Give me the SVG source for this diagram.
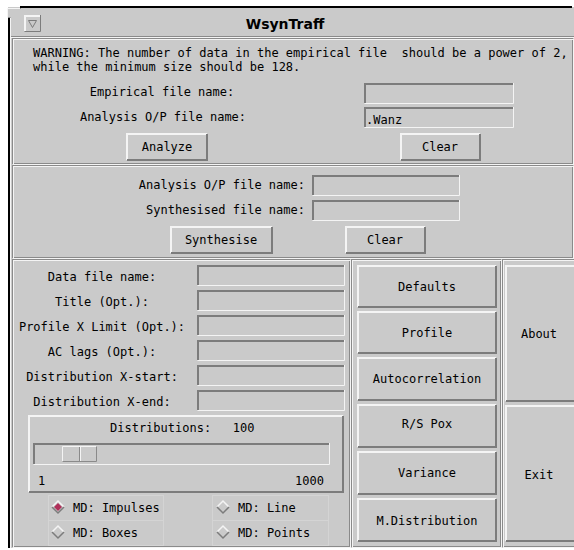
<svg xmlns="http://www.w3.org/2000/svg" width="574" height="550" viewBox="0 0 574 550">
<style>
.bg{fill:#ffffff}
.face{fill:#cacaca}
.hi{fill:none;stroke:#f4f4f4;stroke-width:2}
.sh{fill:none;stroke:#7c7c7c;stroke-width:2}
.ed{fill:none;stroke:#8a8a8a;stroke-width:1}
.ew{fill:none;stroke:#f4f4f4;stroke-width:1}
.t{font-family:"DejaVu Sans Mono","Liberation Mono",monospace;font-size:12px;fill:#000}
.c{text-anchor:middle}
.e{text-anchor:end}
.title{font-family:"DejaVu Sans","Liberation Sans",sans-serif;font-weight:bold;font-size:14px;fill:#000;text-anchor:middle}
</style>
<rect x="0" y="0" width="574" height="550" class="bg"/>

<g id="window-frame">
  <rect x="8" y="7" width="566" height="541" class="face"/>
  <rect x="20" y="6" width="552" height="2" fill="#000"/>
  <rect x="8" y="17" width="2" height="531" fill="#000"/>
  <path d="M7.5 17.5 V8.5 H20.5" fill="none" stroke="#f4f4f4"/>
  <path d="M8 17.5 H10.5 M20.5 8 V9" fill="none" stroke="#8a8a8a"/>
  <line x1="10" y1="36.5" x2="574" y2="36.5" stroke="#8a8a8a"/>
  <line x1="10" y1="37.5" x2="574" y2="37.5" stroke="#f4f4f4"/>
  <line x1="10.5" y1="18" x2="10.5" y2="548" stroke="#f4f4f4"/>
</g>

<g id="titlebar">
  <g id="menu-button">
    <rect x="24" y="15" width="17" height="17" class="face"/>
    <path d="M25 31 V16 H40" class="hi" stroke-width="1"/>
    <path d="M24.5 31.5 H40.5 V15" fill="none" stroke="#7c7c7c"/>
    <path d="M28.5 20.5 H36.5 L32.5 27.5 Z" fill="none" stroke="#7c7c7c" stroke-width="1"/>
  </g>
  <text x="285" y="29" class="title">WsynTraff</text>
</g>

<g id="panel-analyze">
  <rect x="12.5" y="38.5" width="560" height="125" class="ed"/>
  <rect x="13.5" y="39.5" width="560" height="125" class="ew"/>
  <text x="33" y="57" class="t" xml:space="preserve">WARNING: The number of data in the empirical file  should be a power of 2,</text>
  <text x="33" y="71" class="t">while the minimum size should be 128.</text>
  <text x="162" y="96" class="t c">Empirical file name:</text>
  <text x="163" y="121" class="t c">Analysis O/P file name:</text>
  <g id="entry-empirical">
    <rect x="364" y="83" width="150" height="21" class="face"/>
    <path d="M365 103 V84 H513" class="sh"/>
    <path d="M364.5 103.5 H513.5 V83" class="ew"/>
  </g>
  <g id="entry-analysis-op">
    <rect x="364" y="107" width="150" height="21" class="face"/>
    <path d="M365 127 V108 H513" class="sh"/>
    <path d="M364.5 127.5 H513.5 V107" class="ew"/>
    <text x="366" y="124" class="t">.Wanz</text>
  </g>
  <g id="btn-analyze">
    <rect x="126" y="133" width="82" height="28" class="face"/>
    <path d="M127 160 V134 H207" class="hi"/>
    <path d="M127 160 H207 V134" class="sh"/>
    <text x="167" y="151" class="t c">Analyze</text>
  </g>
  <g id="btn-clear-1">
    <rect x="400" y="133" width="81" height="28" class="face"/>
    <path d="M401 160 V134 H480" class="hi"/>
    <path d="M401 160 H480 V134" class="sh"/>
    <text x="440" y="151" class="t c">Clear</text>
  </g>
</g>

<g id="panel-synthesise">
  <rect x="12.5" y="165.5" width="560" height="92" class="ed"/>
  <rect x="13.5" y="166.5" width="560" height="92" class="ew"/>
  <text x="305" y="189" class="t e">Analysis O/P file name:</text>
  <text x="305" y="214" class="t e">Synthesised file name:</text>
  <g id="entry-syn-analysis">
    <rect x="312" y="175" width="148" height="21" class="face"/>
    <path d="M313 195 V176 H459" class="sh"/>
    <path d="M312.5 195.5 H459.5 V175" class="ew"/>
  </g>
  <g id="entry-synthesised">
    <rect x="312" y="200" width="148" height="21" class="face"/>
    <path d="M313 220 V201 H459" class="sh"/>
    <path d="M312.5 220.5 H459.5 V200" class="ew"/>
  </g>
  <g id="btn-synthesise">
    <rect x="170" y="226" width="103" height="28" class="face"/>
    <path d="M171 253 V227 H272" class="hi"/>
    <path d="M171 253 H272 V227" class="sh"/>
    <text x="221" y="244" class="t c">Synthesise</text>
  </g>
  <g id="btn-clear-2">
    <rect x="345" y="226" width="81" height="28" class="face"/>
    <path d="M346 253 V227 H425" class="hi"/>
    <path d="M346 253 H425 V227" class="sh"/>
    <text x="385" y="244" class="t c">Clear</text>
  </g>
</g>

<g id="panel-plot-options">
  <rect x="12.5" y="259.5" width="337" height="287" class="ed"/>
  <rect x="13.5" y="260.5" width="337" height="287" class="ew"/>
  <text x="102" y="281" class="t c">Data file name:</text>
  <text x="102" y="306" class="t c">Title (Opt.):</text>
  <text x="102" y="331" class="t c">Profile X Limit (Opt.):</text>
  <text x="102" y="356" class="t c">AC lags (Opt.):</text>
  <text x="102" y="381" class="t c">Distribution X-start:</text>
  <text x="102" y="406" class="t c">Distribution X-end:</text>
  <g id="entries-plot">
    <rect x="197" y="265" width="148" height="21" class="face"/>
    <path d="M198 285 V266 H344" class="sh"/><path d="M197.5 285.5 H344.5 V265" class="ew"/>
    <rect x="197" y="290" width="148" height="21" class="face"/>
    <path d="M198 310 V291 H344" class="sh"/><path d="M197.5 310.5 H344.5 V290" class="ew"/>
    <rect x="197" y="315" width="148" height="21" class="face"/>
    <path d="M198 335 V316 H344" class="sh"/><path d="M197.5 335.5 H344.5 V315" class="ew"/>
    <rect x="197" y="340" width="148" height="21" class="face"/>
    <path d="M198 360 V341 H344" class="sh"/><path d="M197.5 360.5 H344.5 V340" class="ew"/>
    <rect x="197" y="365" width="148" height="21" class="face"/>
    <path d="M198 385 V366 H344" class="sh"/><path d="M197.5 385.5 H344.5 V365" class="ew"/>
    <rect x="197" y="390" width="148" height="21" class="face"/>
    <path d="M198 410 V391 H344" class="sh"/><path d="M197.5 410.5 H344.5 V390" class="ew"/>
  </g>
  <g id="scale-distributions">
    <rect x="28" y="415" width="316" height="78" class="face"/>
    <path d="M29 492 V416 H343" class="hi"/>
    <path d="M29 492 H343 V416" class="sh"/>
    <text x="110" y="432" class="t" xml:space="preserve">Distributions:   100</text>
    <rect x="33" y="443" width="297" height="22" class="face"/>
    <path d="M34 464 V444 H329" class="sh"/>
    <path d="M33.5 464.5 H329.5 V443" class="ew" stroke-width="2"/>
    <rect x="62" y="446" width="35" height="16" class="face"/>
    <path d="M62.5 461.5 V446.5 H96.5" class="ew"/>
    <path d="M62.5 461.5 H96.5 V446.5" class="ed"/>
    <line x1="79.5" y1="447" x2="79.5" y2="461" stroke="#8a8a8a"/>
    <line x1="80.5" y1="447" x2="80.5" y2="461" stroke="#f4f4f4"/>
    <text x="38" y="485" class="t">1</text>
    <text x="324" y="485" class="t e">1000</text>
  </g>
  <g id="radio-impulses">
    <rect x="48.5" y="495.5" width="115" height="25" fill="none" stroke="#d4d4d4"/>
    <path d="M52 507 L58 501 L64 507" fill="none" stroke="#f4f4f4" stroke-width="1.5"/>
    <path d="M52 507 L58 513 L64 507" fill="none" stroke="#7c7c7c" stroke-width="1.5"/>
    <path d="M54 507 L58 503 L62 507 L58 511 Z" fill="#b0305a"/>
    <text x="73" y="512" class="t">MD: Impulses</text>
  </g>
  <g id="radio-boxes">
    <rect x="48.5" y="520.5" width="115" height="25" fill="none" stroke="#d4d4d4"/>
    <path d="M52 532 L58 526 L64 532" fill="none" stroke="#f4f4f4" stroke-width="1.5"/>
    <path d="M52 532 L58 538 L64 532" fill="none" stroke="#7c7c7c" stroke-width="1.5"/>
    <text x="73" y="537" class="t">MD: Boxes</text>
  </g>
  <g id="radio-line">
    <rect x="212.5" y="495.5" width="116" height="25" fill="none" stroke="#d4d4d4"/>
    <path d="M217 507 L223 501 L229 507" fill="none" stroke="#f4f4f4" stroke-width="1.5"/>
    <path d="M217 507 L223 513 L229 507" fill="none" stroke="#7c7c7c" stroke-width="1.5"/>
    <text x="238" y="512" class="t">MD: Line</text>
  </g>
  <g id="radio-points">
    <rect x="212.5" y="520.5" width="116" height="25" fill="none" stroke="#d4d4d4"/>
    <path d="M217 532 L223 526 L229 532" fill="none" stroke="#f4f4f4" stroke-width="1.5"/>
    <path d="M217 532 L223 538 L229 532" fill="none" stroke="#7c7c7c" stroke-width="1.5"/>
    <text x="238" y="537" class="t">MD: Points</text>
  </g>
</g>

<g id="panel-plot-buttons">
  <rect x="351.5" y="259.5" width="149" height="287" class="ed"/>
  <rect x="352.5" y="260.5" width="149" height="287" class="ew"/>
  <g id="btn-defaults">
    <rect x="357" y="265" width="140" height="43" class="face"/>
    <path d="M358 307 V266 H496" class="hi"/><path d="M358 307 H496 V266" class="sh"/>
    <text x="427" y="291" class="t c">Defaults</text>
  </g>
  <g id="btn-profile">
    <rect x="357" y="311" width="140" height="43" class="face"/>
    <path d="M358 353 V312 H496" class="hi"/><path d="M358 353 H496 V312" class="sh"/>
    <text x="427" y="337" class="t c">Profile</text>
  </g>
  <g id="btn-autocorrelation">
    <rect x="357" y="357" width="140" height="44" class="face"/>
    <path d="M358 400 V358 H496" class="hi"/><path d="M358 400 H496 V358" class="sh"/>
    <text x="427" y="383" class="t c">Autocorrelation</text>
  </g>
  <g id="btn-rspox">
    <rect x="357" y="404" width="140" height="44" class="face"/>
    <path d="M358 447 V405 H496" class="hi"/><path d="M358 447 H496 V405" class="sh"/>
    <text x="427" y="428" class="t c">R/S Pox</text>
  </g>
  <g id="btn-variance">
    <rect x="357" y="451" width="140" height="44" class="face"/>
    <path d="M358 494 V452 H496" class="hi"/><path d="M358 494 H496 V452" class="sh"/>
    <text x="427" y="477" class="t c">Variance</text>
  </g>
  <g id="btn-mdistribution">
    <rect x="357" y="498" width="140" height="44" class="face"/>
    <path d="M358 541 V499 H496" class="hi"/><path d="M358 541 H496 V499" class="sh"/>
    <text x="427" y="525" class="t c">M.Distribution</text>
  </g>
</g>

<g id="panel-app-buttons">
  <rect x="502.5" y="259.5" width="75" height="287" class="ed"/>
  <rect x="503.5" y="260.5" width="75" height="287" class="ew"/>
  <g id="btn-about">
    <rect x="505" y="265" width="72" height="137" class="face"/>
    <path d="M506 401 V266 H577" class="hi"/><path d="M506 401 H576" class="sh"/>
    <text x="539" y="338" class="t c">About</text>
  </g>
  <g id="btn-exit">
    <rect x="505" y="405" width="72" height="137" class="face"/>
    <path d="M506 541 V406 H577" class="hi"/><path d="M506 541 H576" class="sh"/>
    <text x="539" y="479" class="t c">Exit</text>
  </g>
</g>
<g id="connectors"/>
</svg>
